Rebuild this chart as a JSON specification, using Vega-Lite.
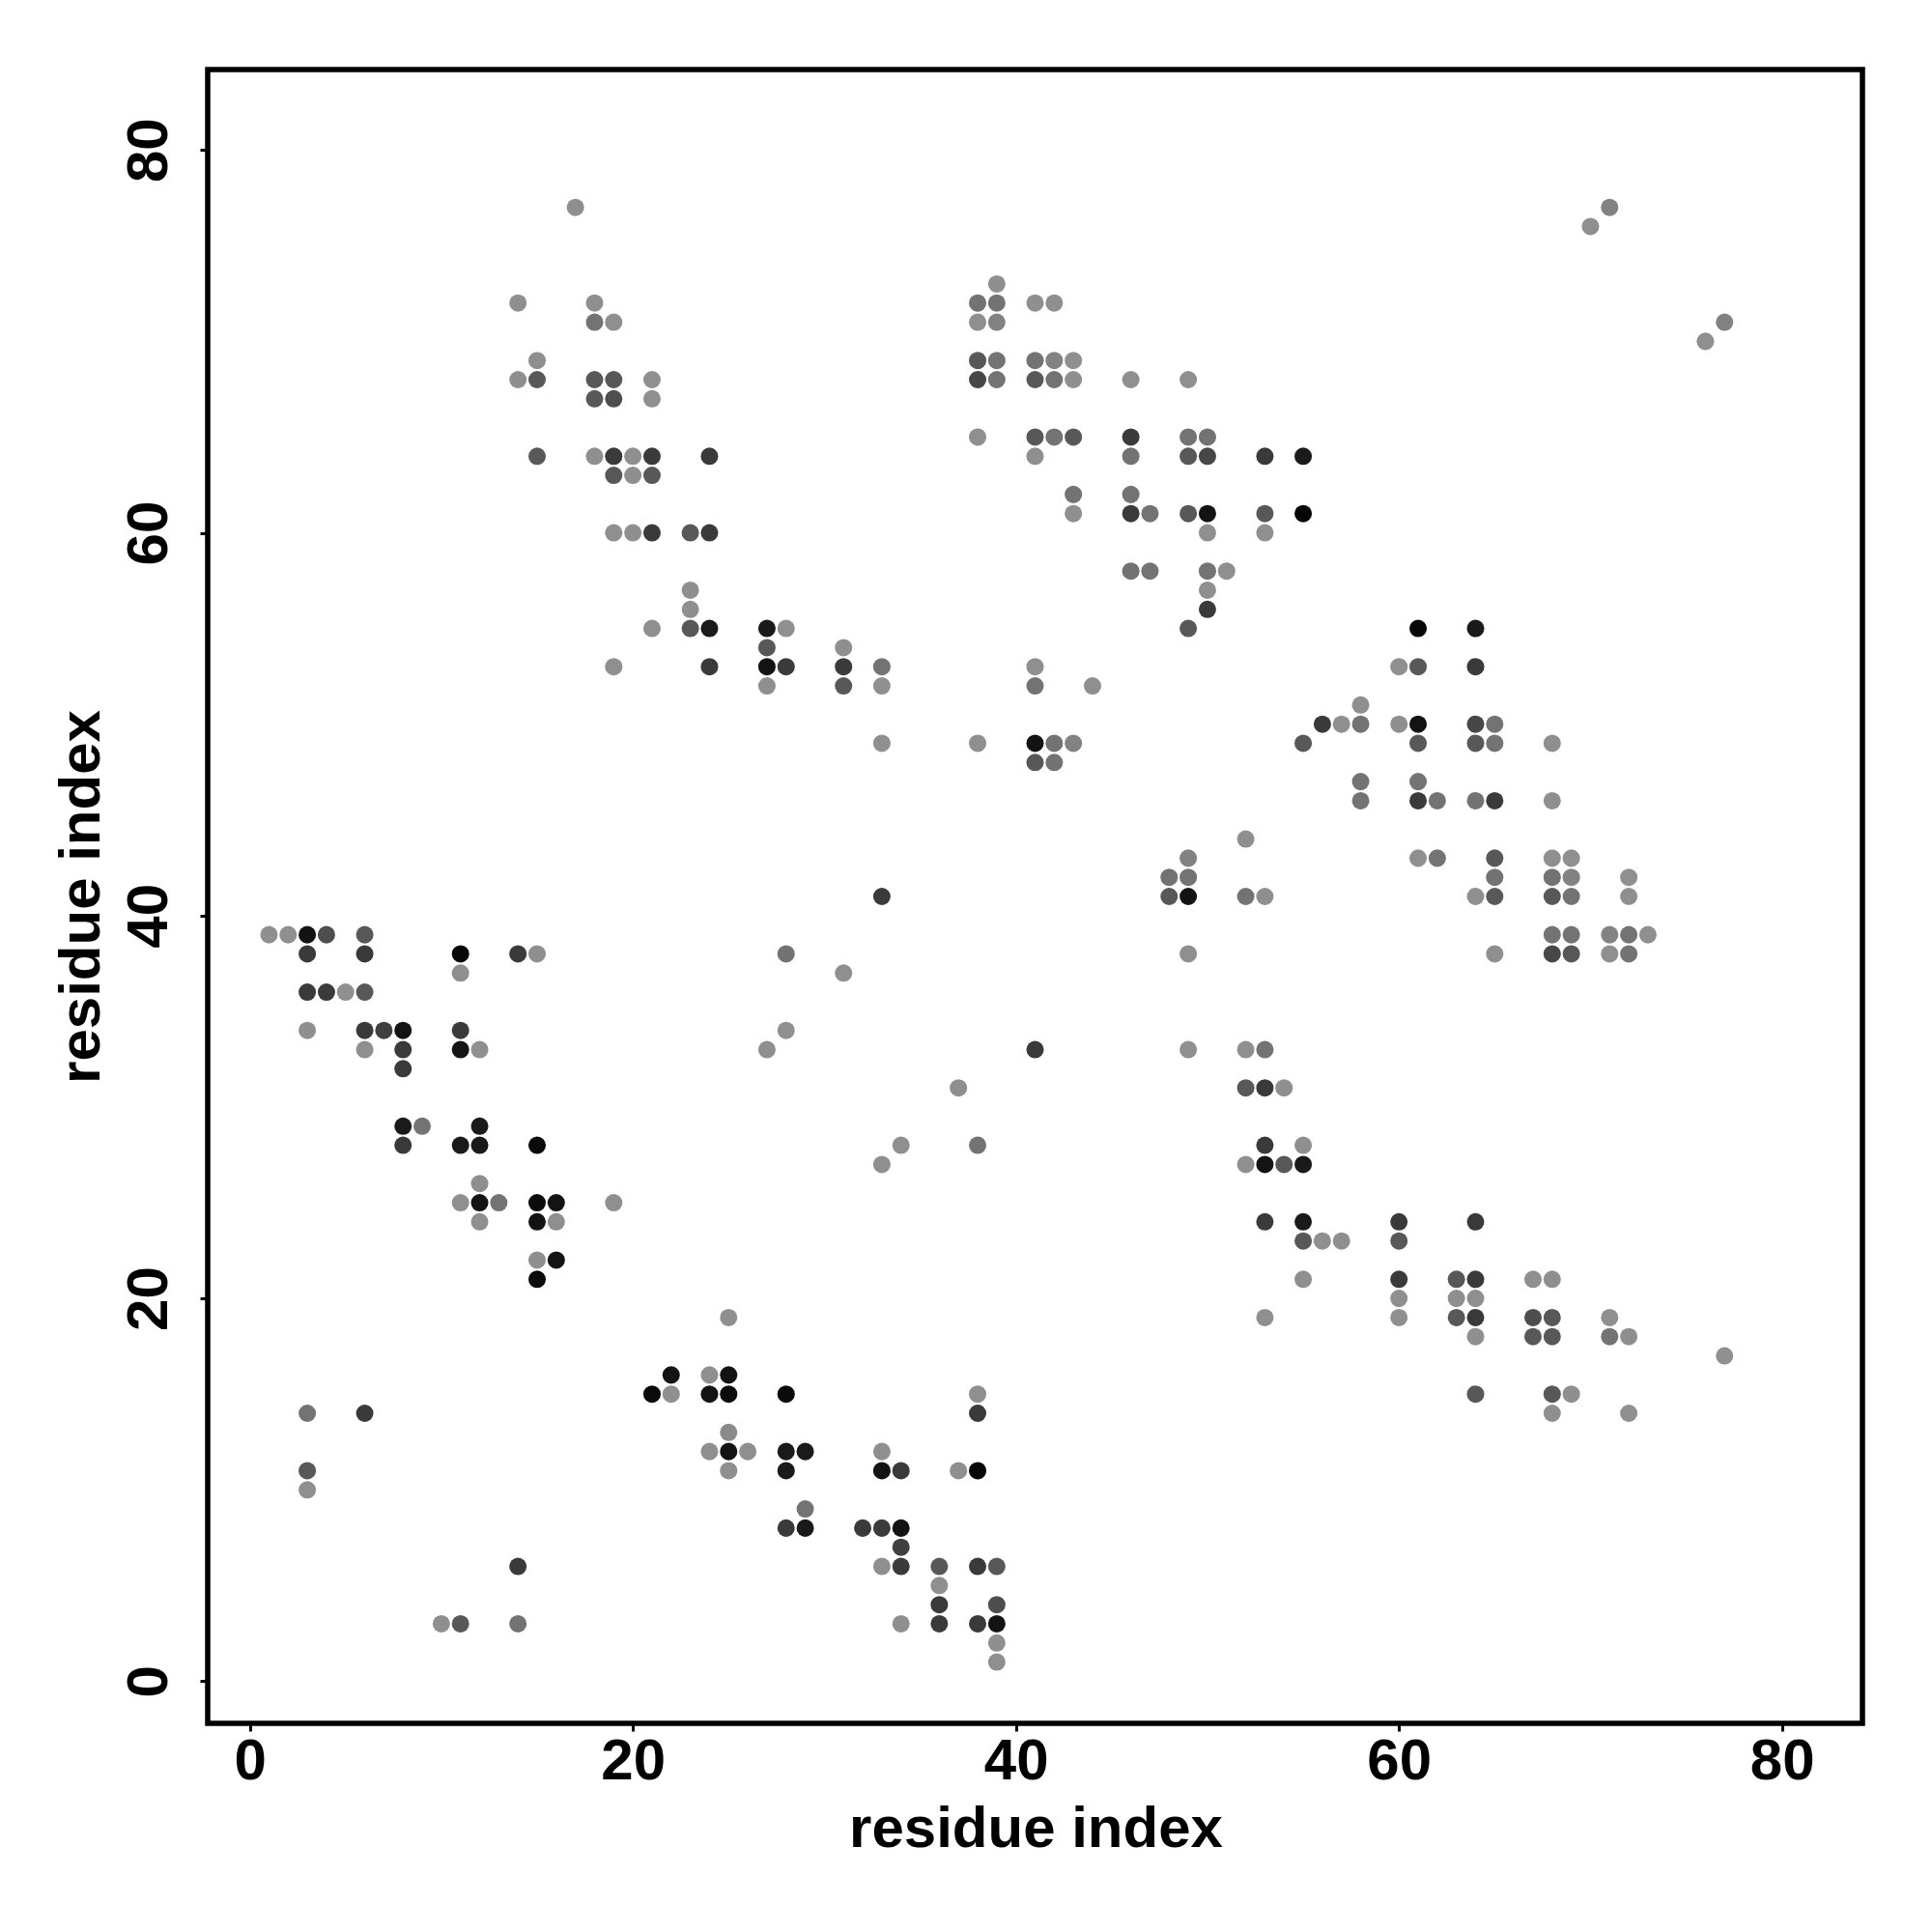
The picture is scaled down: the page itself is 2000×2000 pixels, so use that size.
{
  "$schema": "https://vega.github.io/schema/vega-lite/v6.json",
  "width": 1713,
  "height": 1712,
  "autosize": {"type": "none"},
  "padding": {"left": 215, "top": 72, "right": 72, "bottom": 216},
  "background": "white",
  "config": {"view": {"stroke": "black", "strokeWidth": 5.5}, "font": "Liberation Sans"},
  "datasets": {
    "contacts": [
      {"x":17,"y":77,"p":0.02},{"x":71,"y":77,"p":0.1},{"x":70,"y":76,"p":0.02},{"x":39,"y":73,"p":0.02},
      {"x":14,"y":72,"p":0.02},{"x":18,"y":72,"p":0.02},{"x":38,"y":72,"p":0.2},{"x":39,"y":72,"p":0.2},{"x":41,"y":72,"p":0.02},{"x":42,"y":72,"p":0.02},
      {"x":18,"y":71,"p":0.2},{"x":19,"y":71,"p":0.02},{"x":38,"y":71,"p":0.02},{"x":39,"y":71,"p":0.1},
      {"x":15,"y":69,"p":0.02},{"x":38,"y":69,"p":0.38},{"x":39,"y":69,"p":0.2},{"x":41,"y":69,"p":0.2},{"x":42,"y":69,"p":0.1},{"x":43,"y":69,"p":0.02},
      {"x":14,"y":68,"p":0.02},{"x":15,"y":68,"p":0.38},{"x":18,"y":68,"p":0.38},{"x":19,"y":68,"p":0.38},{"x":21,"y":68,"p":0.02},{"x":38,"y":68,"p":0.5},{"x":39,"y":68,"p":0.2},{"x":41,"y":68,"p":0.38},{"x":42,"y":68,"p":0.2},{"x":43,"y":68,"p":0.02},{"x":46,"y":68,"p":0.02},{"x":49,"y":68,"p":0.02},
      {"x":18,"y":67,"p":0.38},{"x":19,"y":67,"p":0.45},{"x":21,"y":67,"p":0.02},
      {"x":38,"y":65,"p":0.02},{"x":41,"y":65,"p":0.38},{"x":42,"y":65,"p":0.2},{"x":43,"y":65,"p":0.38},{"x":46,"y":65,"p":0.6},{"x":49,"y":65,"p":0.2},{"x":50,"y":65,"p":0.2},
      {"x":15,"y":64,"p":0.38},{"x":18,"y":64,"p":0.02},{"x":19,"y":64,"p":0.6},{"x":20,"y":64,"p":0.02},{"x":21,"y":64,"p":0.6},{"x":24,"y":64,"p":0.6},{"x":41,"y":64,"p":0.02},{"x":46,"y":64,"p":0.2},{"x":49,"y":64,"p":0.38},{"x":50,"y":64,"p":0.5},{"x":53,"y":64,"p":0.6},{"x":55,"y":64,"p":0.85},
      {"x":19,"y":63,"p":0.38},{"x":20,"y":63,"p":0.02},{"x":21,"y":63,"p":0.38},
      {"x":43,"y":62,"p":0.2},{"x":46,"y":62,"p":0.2},
      {"x":43,"y":61,"p":0.02},{"x":46,"y":61,"p":0.6},{"x":47,"y":61,"p":0.2},{"x":49,"y":61,"p":0.38},{"x":50,"y":61,"p":0.9},{"x":53,"y":61,"p":0.38},{"x":55,"y":61,"p":0.97},
      {"x":19,"y":60,"p":0.02},{"x":20,"y":60,"p":0.02},{"x":21,"y":60,"p":0.6},{"x":23,"y":60,"p":0.38},{"x":24,"y":60,"p":0.6},{"x":50,"y":60,"p":0.02},{"x":53,"y":60,"p":0.02},
      {"x":46,"y":58,"p":0.2},{"x":47,"y":58,"p":0.2},{"x":50,"y":58,"p":0.2},{"x":51,"y":58,"p":0.02},
      {"x":23,"y":57,"p":0.02},{"x":50,"y":57,"p":0.02},{"x":23,"y":56,"p":0.02},{"x":50,"y":56,"p":0.6},
      {"x":21,"y":55,"p":0.02},{"x":23,"y":55,"p":0.38},{"x":24,"y":55,"p":0.85},{"x":27,"y":55,"p":0.85},{"x":28,"y":55,"p":0.02},{"x":49,"y":55,"p":0.38},
      {"x":27,"y":54,"p":0.38},{"x":31,"y":54,"p":0.02},
      {"x":19,"y":53,"p":0.02},{"x":24,"y":53,"p":0.6},{"x":27,"y":53,"p":0.9},{"x":28,"y":53,"p":0.6},{"x":31,"y":53,"p":0.6},{"x":33,"y":53,"p":0.2},{"x":41,"y":53,"p":0.02},
      {"x":27,"y":52,"p":0.02},{"x":31,"y":52,"p":0.38},{"x":33,"y":52,"p":0.02},{"x":41,"y":52,"p":0.2},{"x":44,"y":52,"p":0.02},
      {"x":33,"y":49,"p":0.02},{"x":38,"y":49,"p":0.02},{"x":41,"y":49,"p":0.9},{"x":42,"y":49,"p":0.2},{"x":43,"y":49,"p":0.1},
      {"x":41,"y":48,"p":0.38},{"x":42,"y":48,"p":0.2},{"x":33,"y":41,"p":0.6},
      {"x":1,"y":39,"p":0.02},{"x":2,"y":39,"p":0.02},{"x":3,"y":39,"p":0.9},{"x":4,"y":39,"p":0.45},{"x":6,"y":39,"p":0.38},
      {"x":3,"y":38,"p":0.6},{"x":6,"y":38,"p":0.6},{"x":11,"y":38,"p":0.97},{"x":14,"y":38,"p":0.6},{"x":15,"y":38,"p":0.02},{"x":28,"y":38,"p":0.2},
      {"x":11,"y":37,"p":0.02},{"x":31,"y":37,"p":0.02},
      {"x":3,"y":36,"p":0.6},{"x":4,"y":36,"p":0.6},{"x":5,"y":36,"p":0.02},{"x":6,"y":36,"p":0.38},
      {"x":3,"y":34,"p":0.02},{"x":6,"y":34,"p":0.6},{"x":7,"y":34,"p":0.55},{"x":8,"y":34,"p":0.9},{"x":11,"y":34,"p":0.6},{"x":28,"y":34,"p":0.02},
      {"x":6,"y":33,"p":0.02},{"x":8,"y":33,"p":0.6},{"x":11,"y":33,"p":0.9},{"x":12,"y":33,"p":0.02},{"x":27,"y":33,"p":0.02},
      {"x":8,"y":32,"p":0.6},{"x":8,"y":29,"p":0.85},{"x":9,"y":29,"p":0.2},{"x":12,"y":29,"p":0.85},
      {"x":8,"y":28,"p":0.6},{"x":11,"y":28,"p":0.85},{"x":12,"y":28,"p":0.85},{"x":15,"y":28,"p":0.95},
      {"x":12,"y":26,"p":0.02},
      {"x":11,"y":25,"p":0.02},{"x":12,"y":25,"p":0.9},{"x":13,"y":25,"p":0.2},{"x":15,"y":25,"p":0.95},{"x":16,"y":25,"p":0.9},{"x":19,"y":25,"p":0.02},
      {"x":12,"y":24,"p":0.02},{"x":15,"y":24,"p":0.9},{"x":16,"y":24,"p":0.02},
      {"x":15,"y":22,"p":0.02},{"x":16,"y":22,"p":0.9},{"x":15,"y":21,"p":0.95},
      {"x":3,"y":14,"p":0.2},{"x":6,"y":14,"p":0.6},{"x":3,"y":11,"p":0.38},{"x":3,"y":10,"p":0.02},

      {"x":77,"y":17,"p":0.02},{"x":77,"y":71,"p":0.1},{"x":76,"y":70,"p":0.02},{"x":73,"y":39,"p":0.02},
      {"x":72,"y":14,"p":0.02},{"x":72,"y":18,"p":0.02},{"x":72,"y":38,"p":0.2},{"x":72,"y":39,"p":0.2},{"x":72,"y":41,"p":0.02},{"x":72,"y":42,"p":0.02},
      {"x":71,"y":18,"p":0.2},{"x":71,"y":19,"p":0.02},{"x":71,"y":38,"p":0.02},{"x":71,"y":39,"p":0.1},
      {"x":69,"y":15,"p":0.02},{"x":69,"y":38,"p":0.38},{"x":69,"y":39,"p":0.2},{"x":69,"y":41,"p":0.2},{"x":69,"y":42,"p":0.1},{"x":69,"y":43,"p":0.02},
      {"x":68,"y":14,"p":0.02},{"x":68,"y":15,"p":0.38},{"x":68,"y":18,"p":0.38},{"x":68,"y":19,"p":0.38},{"x":68,"y":21,"p":0.02},{"x":68,"y":38,"p":0.5},{"x":68,"y":39,"p":0.2},{"x":68,"y":41,"p":0.38},{"x":68,"y":42,"p":0.2},{"x":68,"y":43,"p":0.02},{"x":68,"y":46,"p":0.02},{"x":68,"y":49,"p":0.02},
      {"x":67,"y":18,"p":0.38},{"x":67,"y":19,"p":0.45},{"x":67,"y":21,"p":0.02},
      {"x":65,"y":38,"p":0.02},{"x":65,"y":41,"p":0.38},{"x":65,"y":42,"p":0.2},{"x":65,"y":43,"p":0.38},{"x":65,"y":46,"p":0.6},{"x":65,"y":49,"p":0.2},{"x":65,"y":50,"p":0.2},
      {"x":64,"y":15,"p":0.38},{"x":64,"y":18,"p":0.02},{"x":64,"y":19,"p":0.6},{"x":64,"y":20,"p":0.02},{"x":64,"y":21,"p":0.6},{"x":64,"y":24,"p":0.6},{"x":64,"y":41,"p":0.02},{"x":64,"y":46,"p":0.2},{"x":64,"y":49,"p":0.38},{"x":64,"y":50,"p":0.5},{"x":64,"y":53,"p":0.6},{"x":64,"y":55,"p":0.85},
      {"x":63,"y":19,"p":0.38},{"x":63,"y":20,"p":0.02},{"x":63,"y":21,"p":0.38},
      {"x":62,"y":43,"p":0.2},{"x":62,"y":46,"p":0.2},
      {"x":61,"y":43,"p":0.02},{"x":61,"y":46,"p":0.6},{"x":61,"y":47,"p":0.2},{"x":61,"y":49,"p":0.38},{"x":61,"y":50,"p":0.9},{"x":61,"y":53,"p":0.38},{"x":61,"y":55,"p":0.97},
      {"x":60,"y":19,"p":0.02},{"x":60,"y":20,"p":0.02},{"x":60,"y":21,"p":0.6},{"x":60,"y":23,"p":0.38},{"x":60,"y":24,"p":0.6},{"x":60,"y":50,"p":0.02},{"x":60,"y":53,"p":0.02},
      {"x":58,"y":46,"p":0.2},{"x":58,"y":47,"p":0.2},{"x":58,"y":50,"p":0.2},{"x":58,"y":51,"p":0.02},
      {"x":57,"y":23,"p":0.02},{"x":57,"y":50,"p":0.02},{"x":56,"y":23,"p":0.02},{"x":56,"y":50,"p":0.6},
      {"x":55,"y":21,"p":0.02},{"x":55,"y":23,"p":0.38},{"x":55,"y":24,"p":0.85},{"x":55,"y":27,"p":0.85},{"x":55,"y":28,"p":0.02},{"x":55,"y":49,"p":0.38},
      {"x":54,"y":27,"p":0.38},{"x":54,"y":31,"p":0.02},
      {"x":53,"y":19,"p":0.02},{"x":53,"y":24,"p":0.6},{"x":53,"y":27,"p":0.9},{"x":53,"y":28,"p":0.6},{"x":53,"y":31,"p":0.6},{"x":53,"y":33,"p":0.2},{"x":53,"y":41,"p":0.02},
      {"x":52,"y":27,"p":0.02},{"x":52,"y":31,"p":0.38},{"x":52,"y":33,"p":0.02},{"x":52,"y":41,"p":0.2},{"x":52,"y":44,"p":0.02},
      {"x":49,"y":33,"p":0.02},{"x":49,"y":38,"p":0.02},{"x":49,"y":41,"p":0.9},{"x":49,"y":42,"p":0.2},{"x":49,"y":43,"p":0.1},
      {"x":48,"y":41,"p":0.38},{"x":48,"y":42,"p":0.2},{"x":41,"y":33,"p":0.6},
      {"x":39,"y":1,"p":0.02},{"x":39,"y":2,"p":0.02},{"x":39,"y":3,"p":0.9},{"x":39,"y":4,"p":0.45},{"x":39,"y":6,"p":0.38},
      {"x":38,"y":3,"p":0.6},{"x":38,"y":6,"p":0.6},{"x":38,"y":11,"p":0.97},{"x":38,"y":14,"p":0.6},{"x":38,"y":15,"p":0.02},{"x":38,"y":28,"p":0.2},
      {"x":37,"y":11,"p":0.02},{"x":37,"y":31,"p":0.02},
      {"x":36,"y":3,"p":0.6},{"x":36,"y":4,"p":0.6},{"x":36,"y":5,"p":0.02},{"x":36,"y":6,"p":0.38},
      {"x":34,"y":3,"p":0.02},{"x":34,"y":6,"p":0.6},{"x":34,"y":7,"p":0.55},{"x":34,"y":8,"p":0.9},{"x":34,"y":11,"p":0.6},{"x":34,"y":28,"p":0.02},
      {"x":33,"y":6,"p":0.02},{"x":33,"y":8,"p":0.6},{"x":33,"y":11,"p":0.9},{"x":33,"y":12,"p":0.02},{"x":33,"y":27,"p":0.02},
      {"x":32,"y":8,"p":0.6},{"x":29,"y":8,"p":0.85},{"x":29,"y":9,"p":0.2},{"x":29,"y":12,"p":0.85},
      {"x":28,"y":8,"p":0.6},{"x":28,"y":11,"p":0.85},{"x":28,"y":12,"p":0.85},{"x":28,"y":15,"p":0.95},
      {"x":26,"y":12,"p":0.02},
      {"x":25,"y":11,"p":0.02},{"x":25,"y":12,"p":0.9},{"x":25,"y":13,"p":0.05},{"x":25,"y":15,"p":0.95},{"x":25,"y":16,"p":0.9},{"x":25,"y":19,"p":0.02},
      {"x":24,"y":12,"p":0.02},{"x":24,"y":15,"p":0.9},{"x":24,"y":16,"p":0.02},
      {"x":22,"y":15,"p":0.02},{"x":22,"y":16,"p":0.9},{"x":21,"y":15,"p":0.95},
      {"x":14,"y":3,"p":0.2},{"x":14,"y":6,"p":0.6},{"x":11,"y":3,"p":0.38},{"x":10,"y":3,"p":0.02}
    ]
  },
  "data": {"name": "contacts"},
  "mark": {"type": "circle", "size": 325, "opacity": 1},
  "encoding": {
    "x": {
      "field": "x", "type": "quantitative",
      "scale": {"domain": [-2.2, 84.2], "nice": false, "zero": false},
      "axis": {
        "values": [0, 20, 40, 60, 80], "grid": false, "domain": false,
        "ticks": true, "tickColor": "black", "tickSize": 8, "tickWidth": 3,
        "labelFont": "Liberation Sans", "labelFontWeight": "bold", "labelFontSize": 60, "labelColor": "black",
        "labelPadding": 2, "labelAlign": "center", "labelBaseline": "top",
        "title": "residue index", "titleFont": "Liberation Sans", "titleFontWeight": "bold", "titleFontSize": 60,
        "titleColor": "black", "titleX": 857, "titleY": 127, "titleAlign": "center", "titleBaseline": "alphabetic"
      }
    },
    "y": {
      "field": "y", "type": "quantitative",
      "scale": {"domain": [-2.2, 84.2], "nice": false, "zero": false},
      "axis": {
        "values": [0, 20, 40, 60, 80], "grid": false, "domain": false,
        "ticks": true, "tickColor": "black", "tickSize": 8, "tickWidth": 3,
        "labelFont": "Liberation Sans", "labelFontWeight": "bold", "labelFontSize": 60, "labelColor": "black",
        "labelAngle": -90, "labelAlign": "center", "labelBaseline": "alphabetic", "labelPadding": 35,
        "title": "residue index", "titleFont": "Liberation Sans", "titleFontWeight": "bold", "titleFontSize": 60,
        "titleColor": "black", "titleAngle": -90, "titleX": -113, "titleY": 856, "titleAlign": "center", "titleBaseline": "alphabetic"
      }
    },
    "color": {
      "field": "p", "type": "quantitative",
      "scale": {"domain": [0, 1], "range": ["#929292", "#000000"]},
      "legend": null
    }
  }
}
